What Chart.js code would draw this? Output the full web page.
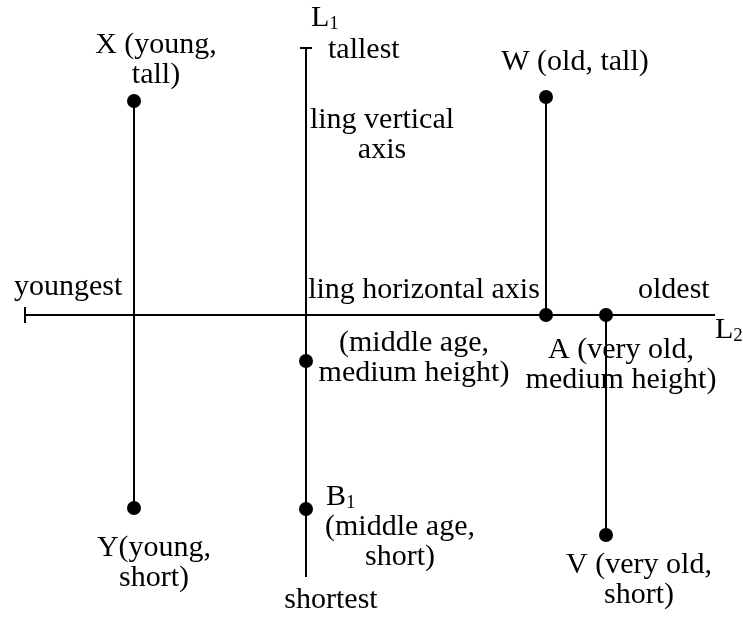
<!DOCTYPE html>
<html lang="en">
  <head>
    <meta charset="UTF-8" />
    <title>Age and height lines</title>
    <style type="text/css">
      body {
        background-color: #ffffff;
        margin: 0;
        padding: 0;
      }
      #diagram {
        display: block;
      }
    </style>
  </head>
  <body>
    <canvas id="diagram" width="743" height="619"></canvas>

    <script src="https://cdnjs.cloudflare.com/ajax/libs/Chart.js/4.4.1/chart.umd.min.js"></script>

    <script type="text/javascript">
      // diagram coordinates: x = age position, y = height position (grows downwards)
      const axisH = [{ x: 25, y: 315 }, { x: 715, y: 315 }];
      const axisHTick = [{ x: 25, y: 307 }, { x: 25, y: 323 }];
      const axisV = [{ x: 306, y: 48 }, { x: 306, y: 577 }];
      const axisVTick = [{ x: 300, y: 48 }, { x: 312, y: 48 }];

      const lineXY = [{ x: 134, y: 101 }, { x: 134, y: 508 }];
      const lineW = [{ x: 546, y: 97 }, { x: 546, y: 315 }];
      const lineAV = [{ x: 606, y: 315 }, { x: 606, y: 535 }];

      const pointNames = ["X", "Y", "W", "W0", "A", "V", "M", "B1"];
      const pointX = [134, 134, 546, 546, 606, 606, 306, 306];
      const pointY = [101, 508, 97, 315, 315, 535, 361, 509];

      // text labels: [lines], x, y of first line centre, align
      const labels = [
        { lines: ["X (young,", "tall)"], x: 156, y: 45, align: "center" },
        { lines: ["tallest"], x: 328, y: 50, align: "left" },
        { lines: ["ling vertical", "axis"], x: 382, y: 120, align: "center" },
        { lines: ["W (old, tall)"], x: 575, y: 62, align: "center" },
        { lines: ["youngest"], x: 14, y: 287, align: "left" },
        { lines: ["ling horizontal axis"], x: 424, y: 290, align: "center" },
        { lines: ["oldest"], x: 638, y: 290, align: "left" },
        { lines: ["(middle age,", "medium height)"], x: 414, y: 343, align: "center" },
        { lines: ["A (very old,", "medium height)"], x: 621, y: 350, align: "center" },
        { lines: ["Y(young,", "short)"], x: 154, y: 548, align: "center" },
        { lines: ["(middle age,", "short)"], x: 400, y: 527, align: "center" },
        { lines: ["shortest"], x: 331, y: 600, align: "center" },
        { lines: ["V (very old,", "short)"], x: 639, y: 565, align: "center" }
      ];
      const subLabels = [
        { main: "L", sub: "1", x: 311, y: 18 },
        { main: "L", sub: "2", x: 715, y: 330 },
        { main: "B", sub: "1", x: 326, y: 497 }
      ];

      const FONT = '"Liberation Serif", "DejaVu Serif", serif';
      const LINE_GAP = 30;

      const segment = (data) => ({
        data: data,
        showLine: true,
        borderColor: "#000",
        borderWidth: 2,
        pointRadius: 0,
        fill: false,
      });

      const textPlugin = {
        id: "textLabels",
        afterDraw(chart) {
          const ctx = chart.ctx;
          const sx = chart.scales.x;
          const sy = chart.scales.y;
          ctx.save();
          ctx.fillStyle = "#000";
          ctx.textBaseline = "middle";
          ctx.font = "30px " + FONT;
          labels.forEach((l) => {
            ctx.textAlign = l.align;
            l.lines.forEach((t, i) => {
              ctx.fillText(t, sx.getPixelForValue(l.x), sy.getPixelForValue(l.y + i * LINE_GAP));
            });
          });
          ctx.textAlign = "left";
          subLabels.forEach((s) => {
            const px = sx.getPixelForValue(s.x);
            const py = sy.getPixelForValue(s.y);
            ctx.font = "30px " + FONT;
            ctx.fillText(s.main, px, py);
            const w = ctx.measureText(s.main).width;
            ctx.font = "19px " + FONT;
            ctx.fillText(s.sub, px + w, py + 6);
          });
          ctx.restore();
        },
      };

      new Chart("diagram", {
        type: "scatter",
        data: {
          datasets: [
            segment(axisH),
            segment(axisHTick),
            segment(axisV),
            segment(axisVTick),
            segment(lineXY),
            segment(lineW),
            segment(lineAV),
            {
              data: pointNames.map((n, i) => ({ x: pointX[i], y: pointY[i] })),
              pointRadius: 7,
              pointBackgroundColor: "#000",
              pointBorderColor: "#000",
              borderWidth: 0,
            },
          ],
        },
        options: {
          responsive: false,
          animation: false,
          layout: { padding: 0, autoPadding: false },
          plugins: { legend: { display: false }, tooltip: { enabled: false } },
          scales: {
            x: { type: "linear", min: 0, max: 743, display: false },
            y: { type: "linear", min: 0, max: 619, reverse: true, display: false },
          },
        },
        plugins: [textPlugin],
      });
    </script>
  </body>
</html>
